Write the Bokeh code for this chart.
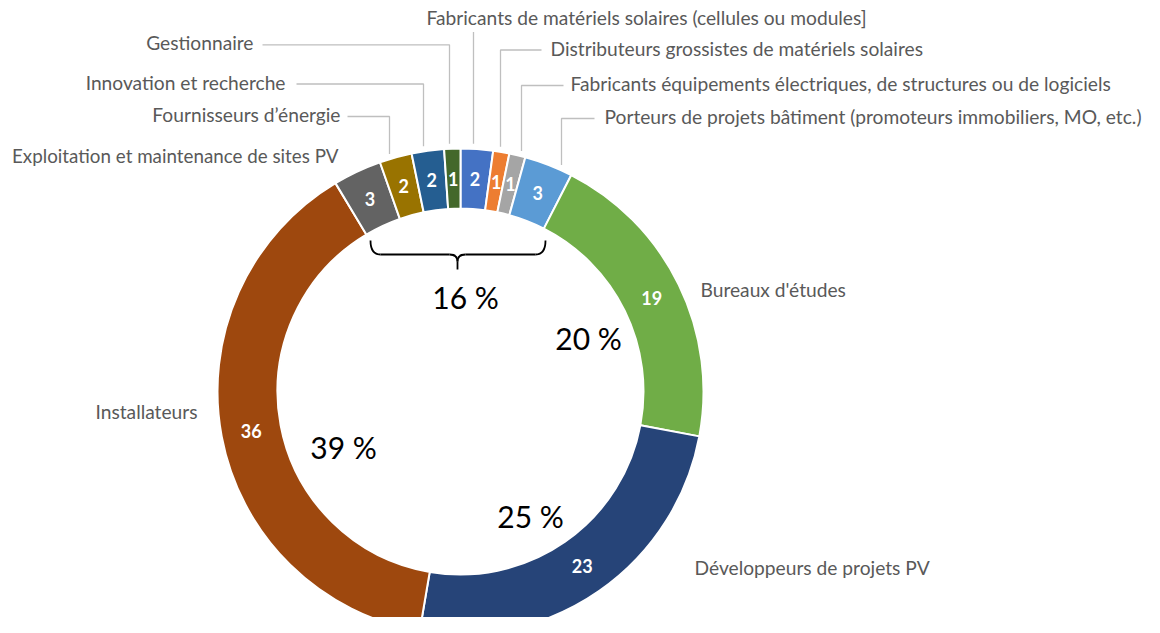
import numpy as np
from bokeh.plotting import figure
from bokeh.models import ColumnDataSource, Range1d
from bokeh.core.properties import value
from bokeh.embed import file_html
from bokeh.resources import INLINE

# ---------------- data ----------------
categories = [
    "Fabricants de matériels solaires (cellules ou modules]",
    "Distributeurs grossistes de matériels solaires",
    "Fabricants équipements électriques, de structures ou de logiciels",
    "Porteurs de projets bâtiment (promoteurs immobiliers, MO, etc.)",
    "Bureaux d'études",
    "Développeurs de projets PV",
    "Installateurs",
    "Exploitation et maintenance de sites PV",
    "Fournisseurs d’énergie",
    "Innovation et recherche",
    "Gestionnaire",
]
counts = [2, 1, 1, 3, 19, 23, 36, 3, 2, 2, 1]
colors = ["#4472C4", "#ED7D31", "#A5A5A5", "#5B9BD5", "#70AD47", "#264478",
          "#9E480E", "#636363", "#997300", "#255E91", "#43682B"]
# percentage groups: the three big categories, the rest grouped
big_groups = ["Bureaux d'études", "Développeurs de projets PV", "Installateurs"]

# ---------------- layout (reference pixel coords) ----------------
W, H = 1144, 617
def Y(yref):
    return H - yref

CX, CY = 460, 391
R_OUT, R_IN = 243, 183

lab_x = [426, 550, 570, 604, 700, 694, 197, 338, 340, 285, 253]
lab_cy = [18, 48.5, 84, 117, 290, 568, 412, 156, 115, 82.5, 43.3]
lab_size = ["19.2px"] * 7 + ["18.8px"] + ["19.2px"] * 3
lab_align = ["left"] * 6 + ["right"] * 5
# leader: x of the vertical segment (None = no leader); "up" = vertical only
lead_x = [473, 500, 521, 561, None, None, None, None, 389, 423, 449]
lead_end = ["up", 541, 563, 594, None, None, None, None, 347, 296, 262]

pct_pos = {"Bureaux d'études": (588, 339), "Développeurs de projets PV": (530, 517),
           "Installateurs": (343, 448), "others": (465, 298)}

# ---------------- computations ----------------
vals = np.array(counts, dtype=float)
total = vals.sum()
cum = np.concatenate([[0], np.cumsum(vals)])
start = np.pi / 2 - 2 * np.pi * cum[:-1] / total
end = np.pi / 2 - 2 * np.pi * cum[1:] / total
mid = (start + end) / 2

cx, cy = CX, Y(CY)
r_mid = (R_OUT + R_IN) / 2

src = ColumnDataSource(dict(
    start=start, end=end, color=colors, cat=categories,
    lx=cx + r_mid * np.cos(mid), ly=cy + r_mid * np.sin(mid),
    txt=[str(c) for c in counts],
))

p = figure(width=W, height=H, x_range=Range1d(0, W), y_range=Range1d(0, H),
           x_axis_type=None, y_axis_type=None, toolbar_location=None,
           output_backend="svg", min_border=0, outline_line_color=None,
           background_fill_color="white", border_fill_color="white")
p.grid.visible = False

p.annular_wedge(x=cx, y=cy, inner_radius=R_IN, outer_radius=R_OUT,
                start_angle="start", end_angle="end", direction="clock",
                fill_color="color", line_color="white", line_width=2, source=src)

p.text(x="lx", y="ly", text="txt", source=src, text_align="center",
       text_baseline="middle", text_color="white", text_font=value("Lato"),
       text_font_size="18px", text_font_style="bold")

# category labels
lab_src = ColumnDataSource(dict(x=lab_x, y=[Y(v - 1) for v in lab_cy], t=categories,
                                a=lab_align, s=lab_size))
p.text(x="x", y="y", text="t", text_align="a", text_font_size="s", source=lab_src,
       text_baseline="middle", text_color="#595959", text_font=value("Lato"))

# leader lines
lxs, lys = [], []
for i, lx in enumerate(lead_x):
    if lx is None:
        continue
    dx = lx - CX
    y0 = cy + np.sqrt((R_OUT + 5) ** 2 - dx ** 2)
    if lead_end[i] == "up":
        lxs.append([lx, lx]); lys.append([y0, Y(lab_cy[i] + 13.5)])
    else:
        yl = Y(lab_cy[i] + 1)
        lxs.append([lx, lx, lead_end[i]]); lys.append([y0, yl, yl])
p.multi_line(xs=lxs, ys=lys, line_color="#BFBFBF", line_width=1.3)

# percentages
others = total - sum(counts[categories.index(g)] for g in big_groups)
px, py, pt = [], [], []
for g in big_groups:
    v = counts[categories.index(g)]
    px.append(pct_pos[g][0]); py.append(Y(pct_pos[g][1] - 2)); pt.append(f"{round(100 * v / total)} %")
px.append(pct_pos["others"][0]); py.append(Y(pct_pos["others"][1] - 2)); pt.append(f"{round(100 * others / total)} %")
p.text(x=px, y=py, text=pt, text_align="center", text_baseline="middle",
       text_color="black", text_font=value("Lato"), text_font_size="30px")

# curly bracket under the small categories
bl, br, bt, bm, tipx, tipy = 370, 545, 240, 254, 457, 269
p.quadratic(x0=[bl, tipx - 8, tipx + 8, br - 10], y0=[Y(bt), Y(bm), Y(bm), Y(bm)],
            x1=[bl + 10, tipx, tipx, br], y1=[Y(bm), Y(bm + 7), Y(bm + 7), Y(bt)],
            cx=[bl, tipx, tipx, br], cy=[Y(bm), Y(bm), Y(bm), Y(bm)],
            line_color="black", line_width=1.8)
p.multi_line(xs=[[bl + 10, tipx - 8], [tipx + 8, br - 10], [tipx, tipx]],
             ys=[[Y(bm), Y(bm)], [Y(bm), Y(bm)], [Y(bm + 7), Y(tipy)]],
             line_color="black", line_width=1.8)

open("out.html", "w").write(file_html(p, INLINE))
